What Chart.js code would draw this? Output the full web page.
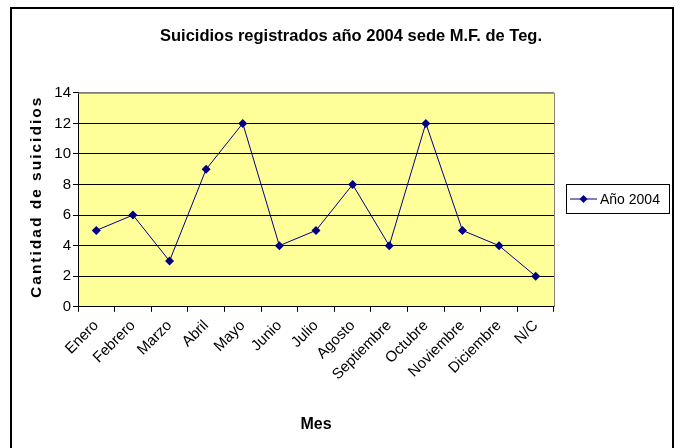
<!DOCTYPE html>
<html>
<head>
<meta charset="utf-8">
<script src="https://cdn.jsdelivr.net/npm/chart.js@4.4.1/dist/chart.umd.min.js"></script>
<style>
  html, body { margin: 0; padding: 0; background: #fff; }
  #wrap { width: 682px; height: 448px; }
</style>
</head>
<body>
<div id="wrap"><canvas id="chart-line" width="682" height="448"></canvas></div>
<script>
// datos
var meses = ["Enero", "Febrero", "Marzo", "Abril", "Mayo", "Junio", "Julio", "Agosto", "Septiembre", "Octubre", "Noviembre", "Diciembre", "N/C"];
var suicidios = [5, 6, 3, 9, 12, 4, 5, 8, 4, 12, 5, 4, 2];
var yTicks = [0, 2, 4, 6, 8, 10, 12, 14];
var tituloY = "Cantidad de suicidios";

var navy = "#000080";
var fuente = "'Liberation Sans', Arial, sans-serif";

// fondo amarillo del area de trazado, marco exterior, titulo Y y leyenda
var decor = {
    id: "decor",
    beforeDraw: function(chart) {
        var c = chart.ctx, a = chart.chartArea;
        c.save();
        c.fillStyle = "#ffffff";
        c.fillRect(0, 0, chart.width, chart.height);
        c.fillStyle = "#ffff99";
        c.fillRect(a.left, a.top, a.right - a.left, a.bottom - a.top);
        c.restore();
    },
    afterDraw: function(chart) {
        var c = chart.ctx, a = chart.chartArea;
        c.save();
        // marco exterior
        c.strokeStyle = "#000";
        c.lineWidth = 2;
        c.strokeRect(11, 8, 662, 445);
        // borde gris arriba y derecha
        c.strokeStyle = "#808080";
        c.lineWidth = 1;
        c.beginPath();
        c.moveTo(a.left, a.top + 0.5);
        c.lineTo(a.right + 0.5, a.top + 0.5);
        c.lineTo(a.right + 0.5, a.bottom);
        c.stroke();

        // titulo del eje Y, con espaciado entre letras
        c.save();
        c.translate(37, (a.top + a.bottom) / 2 - 3);
        c.rotate(-Math.PI / 2);
        c.fillStyle = "#000";
        c.font = "bold 15.5px " + fuente;
        c.letterSpacing = "2px";
        c.textAlign = "center";
        c.textBaseline = "middle";
        c.fillText(tituloY, 0, 0);
        c.restore();

        // leyenda
        var ds = chart.data.datasets[0];
        var lx = 566, ly = 184, lw = 103, lh = 29;
        c.strokeStyle = "#000";
        c.strokeRect(lx + 0.5, ly + 0.5, lw, lh);
        var cy = ly + lh / 2 + 0.5;
        c.strokeStyle = navy;
        c.beginPath();
        c.moveTo(lx + 4, cy);
        c.lineTo(lx + 31, cy);
        c.stroke();
        c.fillStyle = navy;
        c.beginPath();
        c.moveTo(lx + 17.5, cy - 4);
        c.lineTo(lx + 21.5, cy);
        c.lineTo(lx + 17.5, cy + 4);
        c.lineTo(lx + 13.5, cy);
        c.closePath();
        c.fill();
        c.fillStyle = "#000";
        c.font = "14px " + fuente;
        c.textBaseline = "middle";
        c.fillText(ds.label, lx + 34, cy + 1);
        c.restore();
    }
};

var ctx = document.getElementById("chart-line").getContext("2d");

new Chart(ctx, {
    type: "line",
    data: {
        labels: meses,
        datasets: [{
            label: "Año 2004",
            data: suicidios,
            borderColor: navy,
            backgroundColor: navy,
            borderWidth: 1,
            tension: 0,
            pointStyle: "rectRot",
            pointRadius: 4.5,
            pointBorderWidth: 0,
            fill: false
        }]
    },
    options: {
        responsive: false,
        animation: false,
        layout: {
            padding: { left: 20, right: 0, top: 27, bottom: 14 }
        },
        plugins: {
            legend: { display: false },
            tooltip: { enabled: false },
            title: {
                display: true,
                text: "Suicidios registrados año 2004 sede M.F. de Teg.",
                color: "#000",
                font: { family: fuente, size: 16.5, weight: "bold" },
                padding: { top: 0, bottom: 46 }
            }
        },
        scales: {
            x: {
                type: "category",
                offset: true,
                grid: {
                    offset: true,
                    drawOnChartArea: false,
                    drawTicks: true,
                    tickLength: 5,
                    tickColor: "#000"
                },
                border: { display: true, color: "#000", width: 1 },
                ticks: {
                    autoSkip: false,
                    maxRotation: 45,
                    minRotation: 45,
                    color: "#000",
                    padding: 5,
                    font: { family: fuente, size: 15 }
                },
                title: {
                    display: true,
                    text: "Mes",
                    color: "#000",
                    font: { family: fuente, size: 16, weight: "bold" },
                    padding: { top: 26, bottom: 0 }
                }
            },
            y: {
                min: 0,
                max: 14,
                afterBuildTicks: function(scale) {
                    scale.ticks = yTicks.map(function(v) { return { value: v }; });
                },
                afterFit: function(scale) {
                    scale.width = 58;
                },
                grid: {
                    color: function(c) { return c.tick && c.tick.value === 14 ? "#808080" : "#000"; },
                    tickColor: "#000",
                    tickLength: 5,
                    lineWidth: 1
                },
                border: { display: true, color: "#000", width: 1 },
                ticks: {
                    color: "#000",
                    padding: 2,
                    font: { family: fuente, size: 15 }
                }
            },
            yr: {
                position: "right",
                min: 0,
                max: 14,
                display: true,
                afterFit: function(scale) {
                    scale.width = 128;
                },
                grid: { display: false, drawOnChartArea: false },
                border: { display: false },
                ticks: { display: false }
            }
        }
    },
    plugins: [decor]
});
</script>
</body>
</html>
